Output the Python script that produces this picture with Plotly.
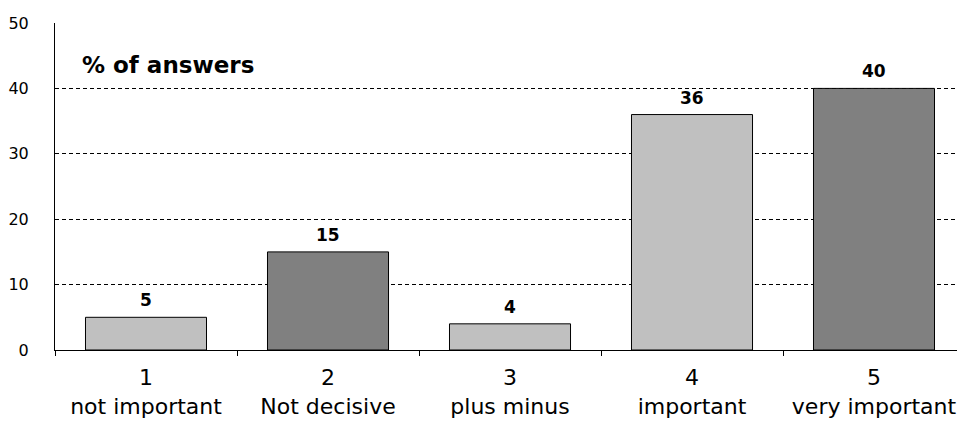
import plotly.graph_objects as go

categories = ["1<br>not important", "2<br>Not decisive", "3<br>plus minus", "4<br>important", "5<br>very important"]
values = [5, 15, 4, 36, 40]
colors = ["#c0c0c0", "#808080", "#c0c0c0", "#c0c0c0", "#808080"]
y_ticks = [0, 10, 20, 30, 40, 50]

FONT = "DejaVu Sans"

fig = go.Figure()
fig.add_trace(go.Bar(
    x=categories, y=values,
    marker=dict(color=colors, line=dict(color="black", width=1)),
    width=0.665,
    hoverinfo="skip",
))

for c, v in zip(categories, values):
    fig.add_annotation(x=c, y=v, text=f"<b>{v}</b>", showarrow=False,
                       yanchor="bottom", yshift=5,
                       font=dict(family=FONT, size=17, color="black"))

fig.add_annotation(xref="paper", yref="paper", x=0.027, y=0.872, xanchor="left", yanchor="middle",
                   text="<b>% of answers</b>", showarrow=False,
                   font=dict(family=FONT, size=23, color="black"))

# page body has an 8px margin; compensate so the plot area sits at x 55..965, y 23..350
fig.update_layout(
    width=957, height=413,
    margin=dict(l=47, r=0, t=15, b=71, autoexpand=False),
    paper_bgcolor="white", plot_bgcolor="white",
    showlegend=False,
    bargap=0.335,
    font=dict(family=FONT, color="black"),
)
fig.update_xaxes(
    showline=True, linecolor="black", linewidth=1,
    ticks="outside", tickson="boundaries", ticklen=5, tickcolor="black",
    tickfont=dict(family=FONT, size=22, color="black"),
    ticklabelstandoff=8,
    showgrid=False, automargin=False,
)
fig.update_yaxes(
    range=[0, 50], tickvals=y_ticks,
    showline=True, linecolor="black", linewidth=1,
    showgrid=True, gridcolor="black", gridwidth=1, griddash="4px,3px",
    zeroline=False, automargin=False,
    ticks="", ticklabelstandoff=22,
    tickfont=dict(family=FONT, size=16, color="black"),
)

fig.write_html("out.html")
